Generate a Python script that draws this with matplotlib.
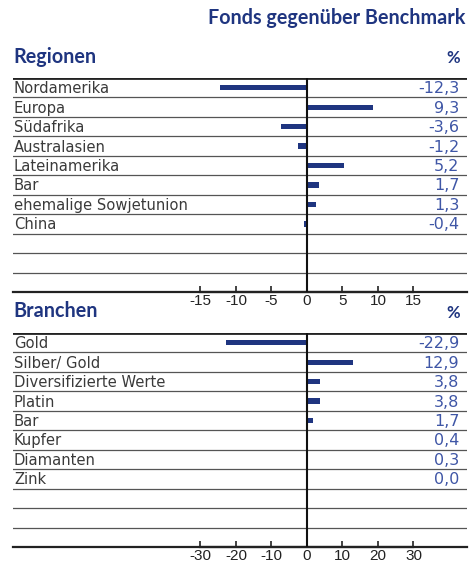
import matplotlib
matplotlib.use("Agg")
import matplotlib.pyplot as plt

# data
regionen = ['Nordamerika', 'Europa', 'Südafrika', 'Australasien', 'Lateinamerika',
            'Bar', 'ehemalige Sowjetunion', 'China']
regionen_werte = [-12.3, 9.3, -3.6, -1.2, 5.2, 1.7, 1.3, -0.4]
regionen_ticks = [-15, -10, -5, 0, 5, 10, 15]

branchen = ['Gold', 'Silber/ Gold', 'Diversifizierte Werte', 'Platin', 'Bar',
            'Kupfer', 'Diamanten', 'Zink']
branchen_werte = [-22.9, 12.9, 3.8, 3.8, 1.7, 0.4, 0.3, 0.0]
branchen_ticks = [-30, -20, -10, 0, 10, 20, 30]

N_ROWS = 11
NAVY = '#1f3580'
VALBLUE = '#3f56a6'
LABELFONT = ['Liberation Sans Narrow', 'DejaVu Sans']
HEADFONT = ['Lato', 'DejaVu Sans']

W, H = 470, 564
fig = plt.figure(figsize=(W / 100, H / 100), dpi=100)


def px_axes(x0, y0, x1, y1):
    return fig.add_axes([x0 / W, 1 - y1 / H, (x1 - x0) / W, (y1 - y0) / H])


def panel(ax, labels, values, ticks):
    # zero sits at pixel 307, ticks[0]..ticks[-1] span pixels 200..413
    ppu = (413 - 200) / (ticks[-1] - ticks[0])
    ax.set_xlim((13 - 307) / ppu, (467 - 307) / ppu)
    ax.set_ylim(N_ROWS, 0)
    for s in ['top', 'left', 'right']:
        ax.spines[s].set_visible(False)
    ax.spines['bottom'].set_bounds(ticks[0], ticks[-1])
    ax.spines['bottom'].set_linewidth(1.6)
    ax.spines['bottom'].set_color('#222222')
    ax.set_xticks(ticks)
    ax.set_xticklabels([str(t) for t in ticks], fontsize=11, color='#222222',
                       family=['Liberation Sans', 'DejaVu Sans'])
    ax.tick_params(axis='x', direction='in', length=4, width=1.2, pad=1.5, colors='#222222')
    ax.set_yticks([])
    ax.patch.set_alpha(0)

    # row lines
    for i in range(1, N_ROWS):
        ax.axhline(i, color='#555555', lw=0.9, zorder=1)
    ax.axhline(0, color='#222222', lw=2, zorder=1)
    ax.axhline(N_ROWS, color='#222222', lw=1.6, zorder=1, clip_on=False)

    ys = [i + 0.5 for i in range(len(values))]
    ax.barh(ys, values, height=0.27, color=NAVY, zorder=2)
    ax.axvline(0, color='#111111', lw=1.5, zorder=3)

    for y, lab, v in zip(ys, labels, values):
        ax.text(0.002, y + 0.05, lab, transform=ax.get_yaxis_transform(),
                ha='left', va='center', fontsize=10.6, color='#3a3a3a', family=LABELFONT)
        ax.text(0.983, y + 0.05, ('%.1f' % v).replace('.', ','),
                transform=ax.get_yaxis_transform(),
                ha='right', va='center', fontsize=11.5, color=VALBLUE, family=LABELFONT)


ax1 = px_axes(13, 78, 467, 292)
panel(ax1, regionen, regionen_werte, regionen_ticks)
ax2 = px_axes(13, 333, 467, 547)
panel(ax2, branchen, branchen_werte, branchen_ticks)

fig.text(465 / W, 1 - 18 / H, 'Fonds gegenüber Benchmark', ha='right', va='center',
         fontsize=14.2, fontweight='bold', color=NAVY, family=HEADFONT)
fig.text(13 / W, 1 - 57 / H, 'Regionen', ha='left', va='center',
         fontsize=14.2, fontweight='bold', color=NAVY, family=HEADFONT)
fig.text(460 / W, 1 - 58 / H, '%', ha='right', va='center',
         fontsize=12, fontweight='bold', color=NAVY, family=HEADFONT)
fig.text(13 / W, 1 - 311 / H, 'Branchen', ha='left', va='center',
         fontsize=14.2, fontweight='bold', color=NAVY, family=HEADFONT)
fig.text(460 / W, 1 - 313 / H, '%', ha='right', va='center',
         fontsize=12, fontweight='bold', color=NAVY, family=HEADFONT)

fig.savefig('out.png', dpi=100)
